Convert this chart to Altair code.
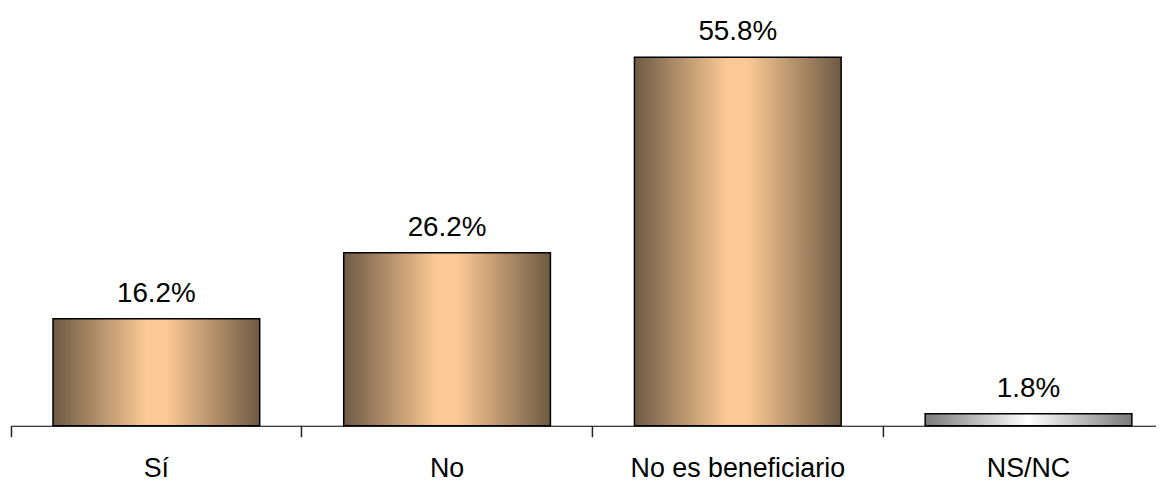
import altair as alt
import pandas as pd

categories = ["Sí", "No", "No es beneficiario", "NS/NC"]
values = [16.2, 26.2, 55.8, 1.8]
groups = ["main", "main", "main", "other"]

df = pd.DataFrame({"cat": categories, "val": values, "grp": groups})

brown = alt.Gradient(
    gradient="linear", x1=0, x2=1, y1=0, y2=0,
    stops=[
        alt.GradientStop(color="#6e5a44", offset=0),
        alt.GradientStop(color="#fbc995", offset=0.45),
        alt.GradientStop(color="#fbc995", offset=0.55),
        alt.GradientStop(color="#6e5a44", offset=1),
    ],
)
gray = alt.Gradient(
    gradient="linear", x1=0, x2=1, y1=0, y2=0,
    stops=[
        alt.GradientStop(color="#7a7a7a", offset=0),
        alt.GradientStop(color="#ffffff", offset=0.5),
        alt.GradientStop(color="#7a7a7a", offset=1),
    ],
)

xscale = alt.Scale(domain=categories, range=[0, 1171], paddingInner=0, paddingOuter=0)
x = alt.X("cat:N", sort=categories, scale=xscale,
          axis=alt.Axis(title=None, bandPosition=0, labelAngle=0,
                        domainColor="#000000", domainWidth=1.2, tickColor="#222222",
                        tickSize=11, tickWidth=1.5, labelFontSize=27, labelFont="Liberation Sans",
                        labelColor="#000000", labelPadding=19, labelBaseline="top",
                        labelLimit=600))
y = alt.Y("val:Q", scale=alt.Scale(domain=[0, 63], nice=False), axis=None)

barw = alt.RelativeBandSize(band=0.711)
base = alt.Chart(df)
bars_main = base.transform_filter(alt.datum.grp == "main").mark_bar(
    color=brown, stroke="#000000", strokeWidth=1.5, width=barw).encode(x=x, y=y)
bars_other = base.transform_filter(alt.datum.grp == "other").mark_bar(
    color=gray, stroke="#000000", strokeWidth=1.5, width=barw).encode(x=x, y=y)
text = base.transform_calculate(lbl="format(datum.val, '.1f') + '%'").mark_text(
    dy=-11, baseline="bottom", fontSize=28, font="Liberation Sans", color="#000000"
).encode(x=x, y=y, text="lbl:N")

chart = alt.layer(bars_main, bars_other, text).properties(
    width=1153, height=419,
    autosize=alt.AutoSizeParams(type="none"),
    padding={"left": 3, "top": 0, "right": 0, "bottom": 58},
).configure_view(stroke=None)

chart.save("out.html", embed_options={"renderer": "svg", "actions": False})
